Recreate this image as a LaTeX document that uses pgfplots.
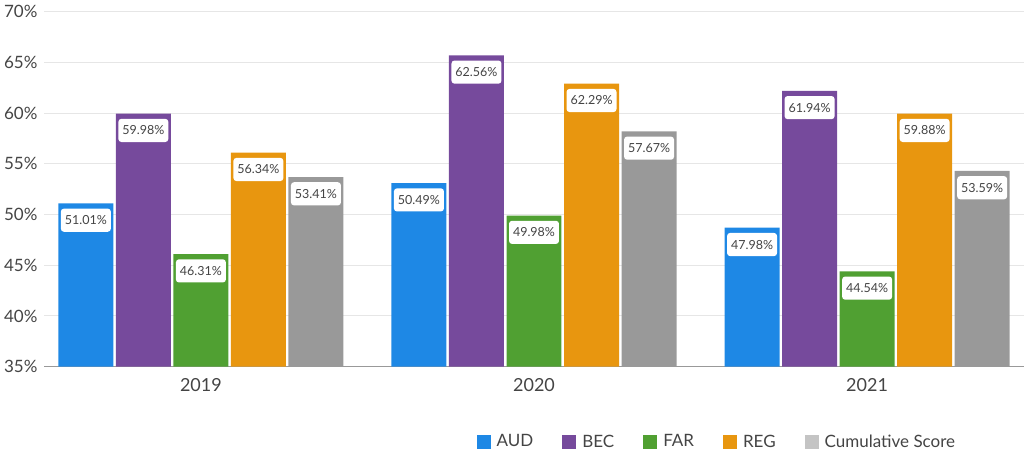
\documentclass[border=0pt]{standalone}
\usepackage{pgfplots}
\pgfplotsset{compat=1.18}
\usepackage{fontspec}
\setmainfont{Lato}
\definecolor{aud}{RGB}{30,136,229}
\definecolor{bec}{RGB}{118,74,156}
\definecolor{far}{RGB}{80,160,50}
\definecolor{reg}{RGB}{232,150,15}
\definecolor{cum}{RGB}{153,153,153}
\definecolor{cumlight}{RGB}{196,196,196}
\definecolor{txt}{RGB}{68,68,68}
\definecolor{gridc}{RGB}{230,230,230}
\begin{document}
\begin{tikzpicture}
\useasboundingbox (0,0) rectangle (1024pt,456pt);
\begin{axis}[
  at={(44pt,89.3pt)}, anchor=south west,
  scale only axis, width=980pt, height=355pt,
  xmin=-0.471, xmax=2.471, ymin=35, ymax=70,
  ytick={35,40,...,70},
  yticklabel={\pgfmathprintnumber{\tick}\%},
  xtick={0,1,2}, xticklabels={2019,2020,2021},
  /pgf/number format/assume math mode=true,
  major tick length=0pt,
  ymajorgrids, major grid style={draw=gridc, line width=1pt},
  axis lines*=left,
  axis line style={-},
  y axis line style={draw=none},
  x axis line style={draw=cum, line width=1.5pt},
  yticklabel style={font=\fontsize{17}{20}\selectfont, text=txt, anchor=east, xshift=-3pt},
  xticklabel style={font=\fontsize{18}{21}\selectfont, text=txt, yshift=-8pt},
  ybar, bar width=0.165,
  point meta=explicit symbolic,
  nodes near coords={\pgfplotspointmeta\%},
  every node near coord/.append style={anchor=north, yshift=-5pt, fill=white, rounded corners=3pt,
     text=txt, font=\fontsize{12.5}{14}\selectfont, inner xsep=4pt, inner ysep=7pt},
  legend columns=5,
  legend style={at={(0.935,-0.211)}, anchor=east, draw=none, fill=none,
     font=\fontsize{17}{20}\selectfont, text=txt,
     /tikz/every odd column/.append style={column sep=4pt},
     /tikz/every even column/.append style={column sep=27pt}},
  legend image code/.code={\fill[#1] (0pt,-7pt) rectangle (14pt,7pt);},
]
\addplot[fill=aud, draw=none, bar shift=-0.3454] coordinates {(0,51.1)[51.01] (1,53.1)[50.49] (2,48.7)[47.98]};
\addlegendentry{AUD}
\addplot[fill=bec, draw=none, bar shift=-0.1727] coordinates {(0,59.95)[59.98] (1,65.7)[62.56] (2,62.2)[61.94]};
\addlegendentry{BEC}
\addplot[fill=far, draw=none, bar shift=0] coordinates {(0,46.1)[46.31] (1,49.9)[49.98] (2,44.4)[44.54]};
\addlegendentry{FAR}
\addplot[fill=reg, draw=none, bar shift=0.1727] coordinates {(0,56.1)[56.34] (1,62.9)[62.29] (2,59.95)[59.88]};
\addlegendentry{REG}
\addplot[fill=cum, draw=none, bar shift=0.3454,
  legend image code/.code={\fill[cumlight] (0pt,-7pt) rectangle (14pt,7pt);}] coordinates {(0,53.7)[53.41] (1,58.2)[57.67] (2,54.3)[53.59]};
\addlegendentry{Cumulative Score}
\end{axis}
\end{tikzpicture}
\end{document}
